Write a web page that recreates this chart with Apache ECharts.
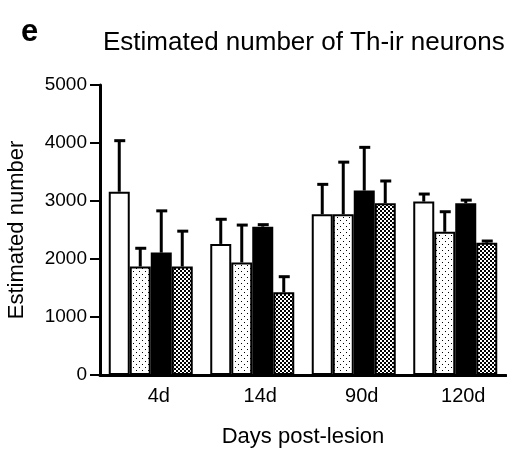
<!DOCTYPE html>
<html>
<head>
<meta charset="utf-8">
<script src="https://cdn.jsdelivr.net/npm/echarts@6/dist/echarts.min.js"></script>
<style>
  html, body { margin: 0; padding: 0; background: #fff; }
  #chart { width: 507px; height: 454px; }
</style>
</head>
<body>
<div id="chart"></div>
<script>
// data
const days = ['4d', '14d', '90d', '120d']
const yTicks = [0, 1000, 2000, 3000, 4000, 5000]

const openMean = [3160, 2260, 2770, 2990]
const openErr = [880, 425, 517, 130]
const dotMean = [1870, 1940, 2770, 2470]
const dotErr = [315, 645, 900, 345]
const solidMean = [2110, 2557, 3180, 2960]
const solidErr = [720, 35, 745, 55]
const checkMean = [1870, 1425, 2960, 2280]
const checkErr = [610, 270, 385, 30]

const FONT = '"Liberation Sans", Arial, sans-serif'
const BAR_W = 21

// fill patterns
const makeTile = (size, draw) => {
  const c = document.createElement('canvas')
  c.width = size
  c.height = size
  const ctx = c.getContext('2d')
  draw(ctx)
  return c
}

const dotTile = makeTile(6, ctx => {
  ctx.fillStyle = '#fff'
  ctx.fillRect(0, 0, 6, 6)
  ctx.fillStyle = '#000'
  ctx.fillRect(1, 1, 1, 1)
  ctx.fillRect(4, 4, 1, 1)
})

const checkTile = makeTile(4, ctx => {
  ctx.fillStyle = '#000'
  ctx.fillRect(0, 0, 4, 4)
  ctx.fillStyle = '#fff'
  ctx.fillRect(0, 0, 2, 2)
  ctx.fillRect(2, 2, 2, 2)
})

const groups = [
  { name: 'open', mean: openMean, err: openErr, fill: '#fff' },
  { name: 'dotted', mean: dotMean, err: dotErr, fill: { image: dotTile, repeat: 'repeat' } },
  { name: 'solid', mean: solidMean, err: solidErr, fill: '#000' },
  { name: 'checker', mean: checkMean, err: checkErr, fill: { image: checkTile, repeat: 'repeat' } }
]

const barSeries = groups.map(g => ({
  name: g.name,
  type: 'bar',
  data: g.mean,
  barWidth: BAR_W,
  barGap: '0%',
  itemStyle: {
    color: g.fill,
    borderColor: '#000',
    borderWidth: 2
  },
  z: 2
}))

// upper error bars, drawn through the axes
const errSeries = groups.map((g, s) => ({
  name: g.name + ' err',
  type: 'custom',
  z: 1,
  data: g.mean.map((m, i) => [i, m, g.err[i]]),
  renderItem: (params, api) => {
    const base = api.coord([api.value(0), api.value(1)])
    const top = api.coord([api.value(0), api.value(1) + api.value(2)])
    const x = base[0] + (s - 1.5) * BAR_W
    const style = { stroke: '#000', lineWidth: 3 }
    return {
      type: 'group',
      children: [
        { type: 'line', shape: { x1: x, y1: base[1], x2: x, y2: top[1] }, style },
        { type: 'line', shape: { x1: x - 5, y1: top[1], x2: x + 6, y2: top[1] }, style }
      ]
    }
  }
}))

const chart = echarts.init(document.getElementById('chart'))

chart.setOption({
  animation: false,
  textStyle: { fontFamily: FONT, color: '#000' },
  title: [
    {
      text: 'e',
      left: 16,
      top: 12,
      textStyle: { fontFamily: FONT, fontSize: 31, fontWeight: 'bold', color: '#000' }
    },
    {
      text: 'Estimated number of Th-ir neurons',
      left: 98,
      top: 25,
      textStyle: { fontFamily: FONT, fontSize: 26, fontWeight: 'normal', color: '#000' }
    }
  ],
  grid: {
    left: 100,
    right: 1,
    top: 85,
    bottom: 79,
    containLabel: false,
    outerBoundsMode: 'none'
  },
  xAxis: {
    type: 'category',
    data: days,
    name: 'Days post-lesion',
    nameLocation: 'middle',
    nameGap: 51,
    nameTextStyle: { fontFamily: FONT, fontSize: 22, color: '#000' },
    axisLine: { lineStyle: { color: '#000', width: 3 } },
    axisTick: { show: false },
    axisLabel: {
      fontFamily: FONT,
      fontSize: 20,
      color: '#000',
      margin: 11,
      padding: [0, 0, 0, 16]
    }
  },
  yAxis: {
    type: 'value',
    min: yTicks[0],
    max: yTicks[yTicks.length - 1],
    interval: 1000,
    name: 'Estimated number',
    nameLocation: 'middle',
    nameGap: 72,
    nameTextStyle: { fontFamily: FONT, fontSize: 22, color: '#000' },
    splitLine: { show: false },
    axisLine: { show: true, lineStyle: { color: '#000', width: 3 } },
    axisTick: { show: true, length: 10, lineStyle: { color: '#000', width: 2 } },
    axisLabel: {
      fontFamily: FONT,
      fontSize: 19,
      color: '#000',
      margin: 13,
      formatter: v => String(v)
    }
  },
  series: [...barSeries, ...errSeries]
})
</script>
</body>
</html>
